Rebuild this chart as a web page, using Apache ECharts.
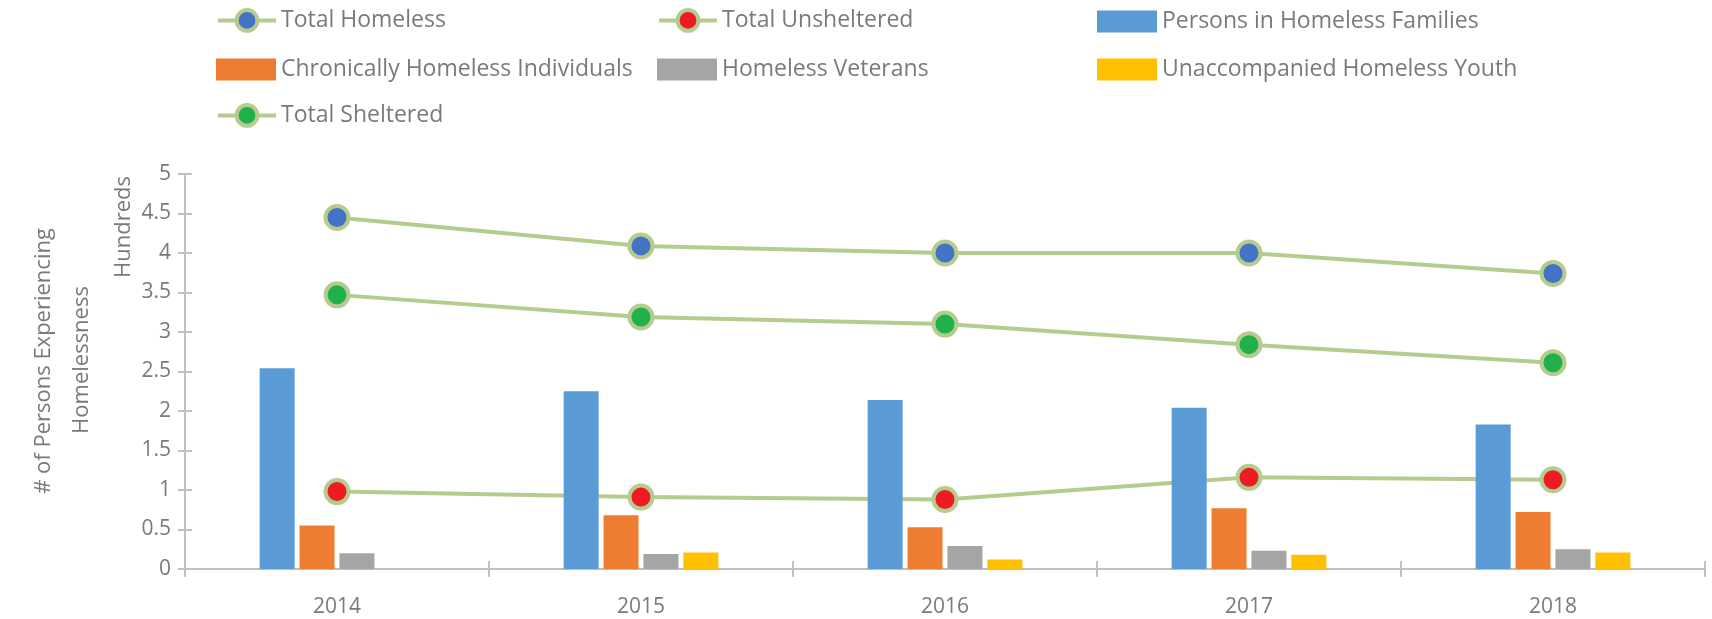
<!DOCTYPE html>
<html><head><meta charset="utf-8">
<script src="https://cdn.jsdelivr.net/npm/echarts@6/dist/echarts.min.js"></script>
<style>html,body{margin:0;padding:0;background:#fff}#c{width:1712px;height:619px}</style>
</head><body><div id="c"></div>
<script>
// ---- data (values in hundreds) ----
const years = ['2014', '2015', '2016', '2017', '2018'];
const totalHomeless = [4.45, 4.09, 4.00, 4.00, 3.74];
const totalUnsheltered = [0.98, 0.91, 0.88, 1.16, 1.13];
const totalSheltered = [3.47, 3.19, 3.10, 2.84, 2.61];
const personsInFamilies = [2.54, 2.25, 2.14, 2.04, 1.83];
const chronicallyHomeless = [0.55, 0.68, 0.53, 0.77, 0.72];
const homelessVeterans = [0.20, 0.19, 0.29, 0.23, 0.25];
const unaccompaniedYouth = [null, 0.21, 0.12, 0.18, 0.21];

const FONT = 'Open Sans';
const TXT = '#7a7a7a';
const AX = '#bfbfbf';
const LINE_GREEN = '#b4cc8e';

function lineSeries(name, data, fill) {
  return {
    name, type: 'line', data, z: 1,
    symbol: 'circle', symbolSize: 23,
    itemStyle: { color: fill, borderColor: LINE_GREEN, borderWidth: 4 },
    lineStyle: { color: LINE_GREEN, width: 4 },
    emphasis: { disabled: true }
  };
}
function barSeries(name, data, color) {
  return {
    name, type: 'bar', data, z: 3,
    barWidth: 35, barGap: '14%',
    itemStyle: { color },
    emphasis: { disabled: true }
  };
}
function legend(name, left, centerY, isLine) {
  const h = isLine ? 26 : 22;
  const l = {
    data: [name], left, top: centerY - h / 2, padding: 0,
    itemWidth: isLine ? 58 : 60, itemHeight: h,
    selectedMode: false,
    textStyle: { color: TXT, fontSize: 23, fontFamily: FONT, lineHeight: 22 }
  };
  if (isLine) {
    l.lineStyle = { width: 4 };
    l.itemStyle = { borderWidth: 4 };
  } else {
    l.icon = 'rect';
  }
  return l;
}

const chart = echarts.init(document.getElementById('c'));
chart.setOption({
  animation: false,
  textStyle: { fontFamily: FONT },
  legend: [
    legend('Total Homeless', 216, 21, true),
    legend('Total Unsheltered', 657, 21, true),
    legend('Persons in Homeless Families', 1097, 21, false),
    legend('Chronically Homeless Individuals', 216, 69, false),
    legend('Homeless Veterans', 657, 69, false),
    legend('Unaccompanied Homeless Youth', 1097, 69, false),
    legend('Total Sheltered', 216, 116, true)
  ],
  grid: { left: 185, right: 7, top: 174, bottom: 50, containLabel: false },
  xAxis: [
    {
      type: 'category', data: years, boundaryGap: true,
      axisLine: { show: true, lineStyle: { color: AX, width: 2 } },
      axisTick: { show: true, length: 8, interval: 0, lineStyle: { color: AX, width: 2 } },
      axisLabel: { color: TXT, fontSize: 21, fontFamily: FONT, margin: 28 },
      splitLine: { show: false }
    },
    {
      type: 'category', data: years, position: 'bottom', boundaryGap: true,
      axisLine: { show: false },
      axisTick: { show: true, inside: true, length: 8, interval: 0, lineStyle: { color: AX, width: 2 } },
      axisLabel: { show: false },
      splitLine: { show: false }
    }
  ],
  yAxis: [
    {
      type: 'value', min: 0, max: 5, interval: 0.5,
      axisLine: { show: true, lineStyle: { color: AX, width: 2 } },
      axisTick: { show: true, length: 7, lineStyle: { color: AX, width: 2 } },
      axisLabel: { color: TXT, fontSize: 21, fontFamily: FONT, margin: 14 },
      splitLine: { show: false }
    },
    {
      type: 'value', min: 0, max: 5, interval: 0.5, position: 'left',
      axisLine: { show: false },
      axisTick: { show: true, inside: true, length: 7, lineStyle: { color: AX, width: 2 } },
      axisLabel: { show: false },
      splitLine: { show: false }
    }
  ],
  graphic: [
    { type: 'text', x: 124, y: 227, rotation: Math.PI / 2,
      style: { text: 'Hundreds', fill: TXT, font: '22px "Open Sans"', textAlign: 'center', textVerticalAlign: 'middle' } },
    { type: 'text', x: 44, y: 361, rotation: Math.PI / 2,
      style: { text: '# of Persons Experiencing', fill: TXT, font: '22px "Open Sans"', textAlign: 'center', textVerticalAlign: 'middle' } },
    { type: 'text', x: 82, y: 360, rotation: Math.PI / 2,
      style: { text: 'Homelessness', fill: TXT, font: '22px "Open Sans"', textAlign: 'center', textVerticalAlign: 'middle' } }
  ],
  series: [
    lineSeries('Total Homeless', totalHomeless, '#4472c4'),
    lineSeries('Total Unsheltered', totalUnsheltered, '#ed1c24'),
    barSeries('Persons in Homeless Families', personsInFamilies, '#5b9bd5'),
    barSeries('Chronically Homeless Individuals', chronicallyHomeless, '#ed7d31'),
    barSeries('Homeless Veterans', homelessVeterans, '#a5a5a5'),
    barSeries('Unaccompanied Homeless Youth', unaccompaniedYouth, '#ffc000'),
    lineSeries('Total Sheltered', totalSheltered, '#21b14b')
  ]
});
</script>
</body></html>
